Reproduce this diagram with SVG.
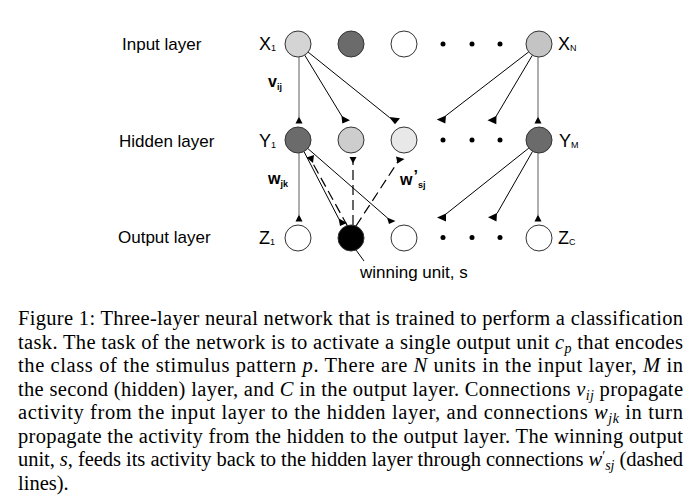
<svg xmlns="http://www.w3.org/2000/svg" width="695" height="501" viewBox="0 0 695 501">
<style>
.lbl{font-family:"Liberation Sans",Arial,sans-serif;font-size:17px;fill:#000}
.nl{font-family:"Liberation Sans",Arial,sans-serif;font-size:18px;fill:#000}
.sub{font-size:9px}
.wl{font-family:"Liberation Sans",Arial,sans-serif;font-size:16px;font-weight:bold;fill:#000}
.node{stroke:#333;stroke-width:1}
.dot{fill:#000}
.ln{stroke:#000;stroke-width:1;fill:none}
.gl{stroke:#777;stroke-width:1.2;fill:none}
.dl{stroke:#000;stroke-width:1.2;fill:none;stroke-dasharray:10 5}
.ah{fill:#000}
.cap{font-family:"Liberation Serif","Times New Roman",serif;font-size:20.5px;fill:#000}
.it{font-style:italic}
.cs{font-size:14px;font-style:italic}
</style>
<rect width="695" height="501" fill="#fff"/>
<text class="lbl" x="122" y="50">Input layer</text>
<text class="lbl" x="119" y="147">Hidden layer</text>
<text class="lbl" x="118" y="243">Output layer</text>

<g id="connectors">
<line class="gl" x1="299" y1="57" x2="299" y2="117"/>
<line class="ln" x1="304.7" y1="55.1" x2="342" y2="116.5"/>
<line class="ln" x1="308.1" y1="52.1" x2="389.5" y2="117.5"/>
<line class="ln" x1="528.7" y1="51.9" x2="445.5" y2="116"/>
<line class="ln" x1="532.4" y1="55.2" x2="496" y2="116.5"/>
<line class="gl" x1="538" y1="57" x2="538" y2="117"/>
<polygon class="ah" points="299,116.5 295.5,123.5 302.5,123.5"/>
<polygon class="ah" points="341.5,115.8 342.3,123.5 350,120.2"/>
<polygon class="ah" points="389,117 400,118.2 395,124.2"/>
<polygon class="ah" points="436.7,119.5 446,115.6 445.3,123.6"/>
<polygon class="ah" points="487.5,120.3 496.5,115.7 496.3,124.3"/>
<polygon class="ah" points="538,116.5 534.5,123.5 541.5,123.5"/>

<line class="gl" x1="299" y1="153" x2="299" y2="215"/>
<line class="ln" x1="304" y1="151.6" x2="338.8" y2="218.8"/>
<line class="ln" x1="307.8" y1="148.5" x2="387.5" y2="218"/>
<line class="ln" x1="528.8" y1="148.1" x2="446" y2="214"/>
<line class="ln" x1="532.6" y1="151.3" x2="497" y2="213.5"/>
<line class="gl" x1="538" y1="153" x2="538" y2="215"/>
<polygon class="ah" points="299,214.5 295.5,221.5 302.5,221.5"/>
<polygon class="ah" points="338.5,218.3 340,226 347,223"/>
<polygon class="ah" points="387,217.5 389,224 395.5,221"/>
<polygon class="ah" points="437,217.5 446,213.5 446,221.5"/>
<polygon class="ah" points="488,217.2 497,213 496.5,221.5"/>
<polygon class="ah" points="538,214.5 534.5,221.5 541.5,221.5"/>

<line class="dl" x1="347.5" y1="226" x2="311" y2="160"/>
<line class="dl" x1="353" y1="225" x2="353" y2="162"/>
<line class="dl" x1="356" y1="226" x2="399" y2="160"/>
<polygon class="ah" points="306.5,157.5 314,155 313,163"/>
<polygon class="ah" points="349.5,157 356.5,157 353,163.5"/>
<polygon class="ah" points="396,156.5 404.5,159 397.5,163.5"/>

<line class="ln" x1="356" y1="250" x2="364" y2="261"/>
</g>

<g id="input-layer">
<g id="x1"><circle class="node" cx="298" cy="44" r="13" fill="#d4d4d4"/><text class="nl" x="259" y="50">X<tspan class="sub" dy="1">1</tspan></text></g>
<g id="x2"><circle class="node" cx="351" cy="44" r="13" fill="#6b6b6b"/></g>
<g id="x3"><circle class="node" cx="404" cy="44" r="13" fill="#fff"/></g>
<g id="x-dots"><circle class="dot" cx="443" cy="44" r="2.5"/><circle class="dot" cx="472" cy="44" r="2.5"/><circle class="dot" cx="500" cy="44" r="2.5"/></g>
<g id="xn"><circle class="node" cx="539" cy="44" r="13" fill="#c4c4c4"/><text class="nl" x="558" y="50">X<tspan class="sub" dy="1">N</tspan></text></g>
</g>

<g id="hidden-layer">
<g id="y1"><circle class="node" cx="298" cy="140" r="13" fill="#6b6b6b"/><text class="nl" x="259" y="147">Y<tspan class="sub" dy="1">1</tspan></text></g>
<g id="y2"><circle class="node" cx="351" cy="140" r="13" fill="#cdcdcd"/></g>
<g id="y3"><circle class="node" cx="404" cy="140" r="13" fill="#e8e8e8"/></g>
<g id="y-dots"><circle class="dot" cx="443" cy="140" r="2.5"/><circle class="dot" cx="472" cy="140" r="2.5"/><circle class="dot" cx="500" cy="140" r="2.5"/></g>
<g id="ym"><circle class="node" cx="539" cy="140" r="13" fill="#6b6b6b"/><text class="nl" x="559" y="147">Y<tspan class="sub" dy="1">M</tspan></text></g>
</g>

<g id="output-layer">
<g id="z1"><circle class="node" cx="298" cy="238" r="13" fill="#fff"/><text class="nl" x="259" y="244">Z<tspan class="sub" dy="1">1</tspan></text></g>
<g id="winner"><circle class="node" cx="351" cy="238" r="13" fill="#000"/><text class="lbl" x="360" y="278">winning unit, s</text></g>
<g id="z3"><circle class="node" cx="404" cy="238" r="13" fill="#fff"/></g>
<g id="z-dots"><circle class="dot" cx="443" cy="237.5" r="2.5"/><circle class="dot" cx="472" cy="237.5" r="2.5"/><circle class="dot" cx="500" cy="237.5" r="2.5"/></g>
<g id="zc"><circle class="node" cx="539" cy="238" r="13" fill="#fff"/><text class="nl" x="558" y="244">Z<tspan class="sub" dy="1">C</tspan></text></g>
</g>

<g id="weight-labels">
<text class="wl" x="268" y="87">v<tspan class="sub" dy="3">ij</tspan></text>
<text class="wl" x="268" y="184">w<tspan class="sub" dy="3">jk</tspan></text>
<text class="wl" x="400" y="185">w<tspan dx="1" dy="-3">’</tspan><tspan class="sub" dy="6">sj</tspan></text>
</g>

<g id="caption">
<text class="cap" x="18" y="325" textLength="665" lengthAdjust="spacing">Figure 1:  Three-layer neural network that is trained to perform a classification</text>
<text class="cap" x="18" y="348.5" textLength="665" lengthAdjust="spacing">task. The task of the network is to activate a single output unit <tspan class="it">c</tspan><tspan class="cs" dy="4">p</tspan><tspan dy="-4"> that encodes</tspan></text>
<text class="cap" x="18" y="372" textLength="665" lengthAdjust="spacing">the class of the stimulus pattern <tspan class="it">p</tspan>. There are <tspan class="it">N</tspan> units in the input layer, <tspan class="it">M</tspan> in</text>
<text class="cap" x="18" y="395.5" textLength="665" lengthAdjust="spacing">the second (hidden) layer, and <tspan class="it">C</tspan> in the output layer. Connections <tspan class="it">v</tspan><tspan class="cs" dy="4">ij</tspan><tspan dy="-4"> propagate</tspan></text>
<text class="cap" x="18" y="419" textLength="665" lengthAdjust="spacing">activity from the input layer to the hidden layer, and connections <tspan class="it">w</tspan><tspan class="cs" dy="4">jk</tspan><tspan dy="-4"> in turn</tspan></text>
<text class="cap" x="18" y="442.5" textLength="665" lengthAdjust="spacing">propagate the activity from the hidden to the output layer. The winning output</text>
<text class="cap" x="18" y="466" textLength="665" lengthAdjust="spacing">unit, <tspan class="it">s</tspan>, feeds its activity back to the hidden layer through connections <tspan class="it">w</tspan><tspan font-size="14" dy="-5">′</tspan><tspan class="cs" dy="9">sj</tspan><tspan dy="-4"> (dashed</tspan></text>
<text class="cap" x="18" y="489.5">lines).</text>
</g>
</svg>
